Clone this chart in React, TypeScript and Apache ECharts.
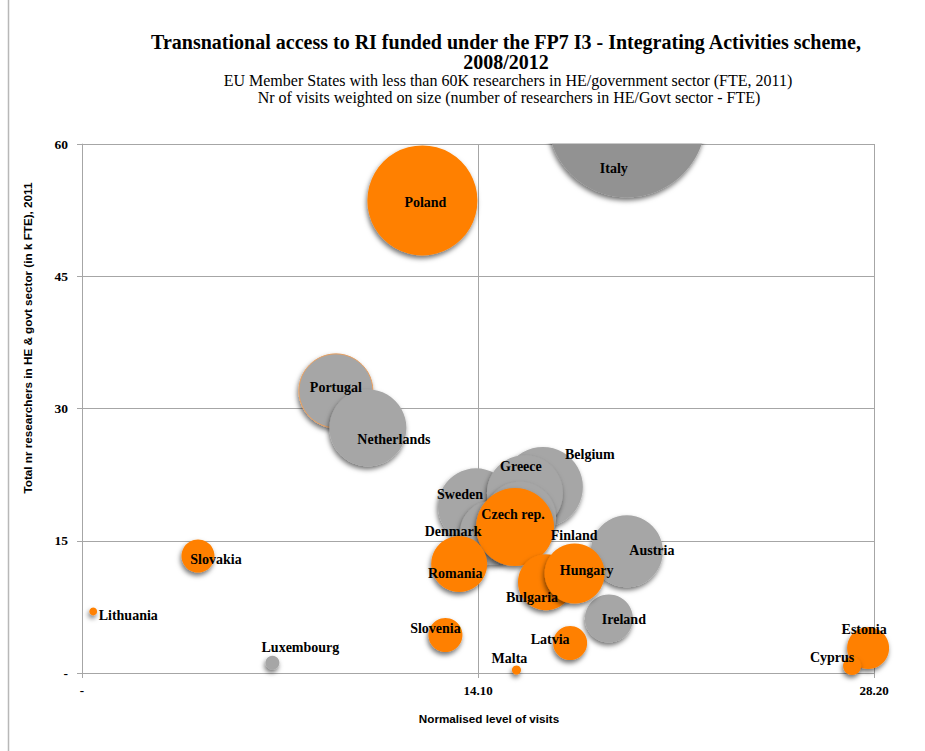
import React, { useEffect, useRef } from 'react';
import * as echarts from 'echarts';

// Normalised level of visits (x), researchers in HE & govt sector, k FTE (y), bubble size (weighted visits)
const grayNames = ['Portugal', 'Netherlands', 'Sweden', 'Belgium', 'Greece', 'Finland', 'Denmark', 'Austria', 'Ireland', 'Luxembourg'];
const grayVisits = [9.04, 10.18, 14.03, 16.41, 15.77, 15.6, 14.6, 19.4, 18.76, 6.78];
const grayResearchers = [32.0, 27.8, 18.9, 21.1, 20.4, 17.6, 15.9, 13.8, 6.18, 1.17];
const graySize = [535, 579, 564, 625, 564, 506, 400, 506, 225, 19];

const italyNames = ['Italy'];
const italyVisits = [19.4];
const italyResearchers = [62.9];
const italySize = [2438];

const orangeNames = ['Poland', 'Czech rep.', 'Romania', 'Bulgaria', 'Hungary', 'Slovenia', 'Latvia', 'Malta', 'Slovakia', 'Lithuania', 'Estonia', 'Cyprus'];
const orangeVisits = [12.12, 15.42, 13.43, 16.52, 17.54, 12.94, 17.38, 15.47, 4.13, 0.4, 27.99, 27.42];
const orangeResearchers = [53.6, 16.56, 12.36, 10.3, 11.28, 4.31, 3.4, 0.34, 13.27, 6.98, 2.84, 0.8];
const orangeSize = [1182, 594, 306, 306, 352, 113, 113, 8, 106, 6, 172, 32];

const xTicks = [0, 14.1, 28.2];
const yTicks = [0, 15, 30, 45, 60];

const titleLines = ['Transnational access to RI funded under the FP7 I3 - Integrating Activities scheme,', '2008/2012'];
const subtitleLines = [
  'EU Member States with less than 60K researchers in HE/government sector (FTE, 2011)',
  'Nr of visits weighted on size (number of researchers in HE/Govt sector - FTE)',
];
const xName = 'Normalised level of visits';
const yName = 'Total nr researchers in HE & govt sector (in k FTE), 2011';

// label placement (style only)
const labelOffsets: Record<string, [number, number]> = {
  Italy: [-13, 50],
  Poland: [3, 2],
  Portugal: [0, -3],
  Netherlands: [26, 12],
  Sweden: [-16, -12],
  Greece: [-4, -27],
  Belgium: [47, -32],
  Finland: [54, 18],
  Denmark: [-39, -1],
  Austria: [25, -1],
  Ireland: [15, 1],
  Luxembourg: [28, -15],
  'Czech rep.': [-2, -12],
  Romania: [-4, 9],
  Hungary: [12, -3],
  Bulgaria: [-14, 15],
  Slovenia: [-10, -7],
  Latvia: [-20, -4],
  Malta: [-7, -12],
  Slovakia: [18, 3],
  Lithuania: [35, 4],
  Estonia: [-4, -18],
  Cyprus: [-20, -8],
};

const SERIF = '"Liberation Serif", "Times New Roman", serif';
const SANS = '"Liberation Sans", Arial, sans-serif';

function buildData(names: string[], xs: number[], ys: number[], sizes: number[]) {
  return names.map((n, i) => ({
    name: n,
    value: [xs[i], ys[i], sizes[i]],
    label: { offset: labelOffsets[n] || [0, 0] },
    itemStyle: n === 'Portugal' ? { borderColor: '#e8a060', borderWidth: 1 } : undefined,
  }));
}

const labelStyle = {
  show: true,
  position: 'inside',
  formatter: '{b}',
  color: '#000',
  fontFamily: SERIF,
  fontWeight: 'bold',
  fontSize: 14,
};

const shadow = {
  shadowBlur: 5,
  shadowColor: 'rgba(0,0,0,0.55)',
  shadowOffsetX: -1,
  shadowOffsetY: 3,
};

const sizeFn = (v: number[]) => Math.sqrt(v[2]) * 3.2;

export default function App() {
  const ref = useRef<HTMLDivElement>(null);
  useEffect(() => {
    if (!ref.current) return;
    const chart = echarts.init(ref.current, undefined, { renderer: 'svg' });
    const gridColor = '#a6a6a6';
    chart.setOption({
      animation: false,
      backgroundColor: '#fff',
      grid: { left: 82, right: 51, top: 144, bottom: 78, containLabel: false },
      xAxis: {
        type: 'value',
        min: xTicks[0],
        max: xTicks[xTicks.length - 1],
        interval: xTicks[1] - xTicks[0],
        axisLine: { show: true, lineStyle: { color: gridColor, width: 1 } },
        axisTick: { show: true, length: 5, lineStyle: { color: gridColor } },
        splitLine: { show: true, lineStyle: { color: gridColor, width: 1 } },
        axisLabel: {
          formatter: (v: number) => (v === 0 ? '-' : v.toFixed(2)),
          fontFamily: SERIF,
          fontWeight: 'bold',
          fontSize: 13,
          color: '#000',
          margin: 11,
        },
      },
      yAxis: {
        type: 'value',
        min: yTicks[0],
        max: yTicks[yTicks.length - 1],
        interval: yTicks[1] - yTicks[0],
        axisLine: { show: true, lineStyle: { color: gridColor, width: 1 } },
        axisTick: { show: true, length: 5, lineStyle: { color: gridColor } },
        splitLine: { show: true, lineStyle: { color: gridColor, width: 1 } },
        axisLabel: {
          formatter: (v: number) => (v === 0 ? '-' : String(v)),
          fontFamily: SERIF,
          fontWeight: 'bold',
          fontSize: 13.5,
          color: '#000',
          margin: 14,
        },
      },
      series: [
        {
          type: 'scatter',
          name: 'Other',
          data: buildData(grayNames, grayVisits, grayResearchers, graySize),
          symbolSize: sizeFn,
          itemStyle: { color: '#a6a6a6', opacity: 1, ...shadow },
          label: labelStyle,
          emphasis: { disabled: true },
          z: 2,
        },
        {
          type: 'scatter',
          name: 'Italy',
          clip: false,
          data: buildData(italyNames, italyVisits, italyResearchers, italySize),
          symbolSize: sizeFn,
          itemStyle: { color: '#929292', opacity: 1, ...shadow },
          label: labelStyle,
          emphasis: { disabled: true },
          z: 2,
        },
        {
          type: 'scatter',
          name: 'New',
          data: buildData(orangeNames, orangeVisits, orangeResearchers, orangeSize),
          symbolSize: sizeFn,
          itemStyle: { color: '#ff8000', opacity: 1, ...shadow },
          label: labelStyle,
          emphasis: { disabled: true },
          z: 2,
        },
      ],
      graphic: [
        { type: 'rect', z: 3, silent: true, shape: { x: 82.5, y: 0, width: 800, height: 143.5 }, style: { fill: '#fff' } },
        { type: 'line', z: 10, silent: true, shape: { x1: 8.5, y1: 0, x2: 8.5, y2: 751 }, style: { stroke: '#b8b8b8', lineWidth: 1.5 } },
        {
          type: 'text', z: 10, x: 506, y: 42,
          style: { text: titleLines[0], font: `bold 20px ${SERIF}`, fill: '#000', textAlign: 'center', textVerticalAlign: 'middle' },
        },
        {
          type: 'text', z: 10, x: 506, y: 62,
          style: { text: titleLines[1], font: `bold 20px ${SERIF}`, fill: '#000', textAlign: 'center', textVerticalAlign: 'middle' },
        },
        {
          type: 'text', z: 10, x: 508, y: 80,
          style: { text: subtitleLines[0], font: `16px ${SERIF}`, fill: '#000', textAlign: 'center', textVerticalAlign: 'middle' },
        },
        {
          type: 'text', z: 10, x: 509, y: 97,
          style: { text: subtitleLines[1], font: `16px ${SERIF}`, fill: '#000', textAlign: 'center', textVerticalAlign: 'middle' },
        },
        {
          type: 'text', z: 10, x: 489, y: 718,
          style: { text: xName, font: `bold 11.7px ${SANS}`, fill: '#000', textAlign: 'center', textVerticalAlign: 'middle' },
        },
        {
          type: 'text', z: 10, x: 27, y: 338, rotation: Math.PI / 2,
          style: { text: yName, font: `bold 11.7px ${SANS}`, fill: '#000', textAlign: 'center', textVerticalAlign: 'middle' },
        },
      ],
    });
    return () => chart.dispose();
  }, []);
  return <div ref={ref} style={{ position: 'fixed', left: 0, top: 0, width: 925, height: 751 }} />;
}
